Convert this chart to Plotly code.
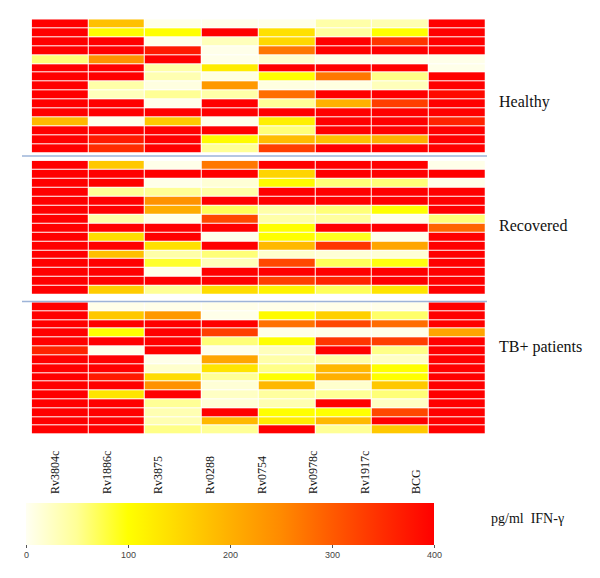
import plotly.graph_objects as go

antigens = ["Rv3804c", "Rv1886c", "Rv3875", "Rv0288", "Rv0754", "Rv0978c", "Rv1917c", "BCG"]
groups = ["Healthy", "Recovered", "TB+ patients"]

healthy = [
    [400, 180, 5, 5, 5, 40, 35, 400],
    [400, 105, 100, 400, 140, 45, 100, 400],
    [400, 400, 5, 30, 150, 400, 340, 400],
    [400, 400, 370, 5, 270, 400, 400, 400],
    [60, 240, 400, 5, 20, 5, 5, 5],
    [400, 400, 40, 125, 400, 400, 400, 5],
    [400, 400, 35, 10, 100, 270, 55, 400],
    [400, 40, 10, 230, 10, 10, 30, 400],
    [400, 30, 50, 40, 280, 400, 400, 390],
    [400, 400, 5, 400, 50, 200, 330, 400],
    [400, 400, 400, 400, 400, 400, 400, 400],
    [190, 5, 170, 5, 120, 400, 400, 360],
    [400, 400, 400, 400, 60, 400, 400, 400],
    [400, 370, 400, 105, 185, 180, 200, 400],
    [400, 350, 400, 50, 330, 400, 400, 400],
]

recovered = [
    [400, 170, 5, 270, 400, 400, 400, 5],
    [400, 400, 400, 400, 155, 400, 400, 400],
    [400, 400, 5, 15, 105, 60, 60, 5],
    [400, 50, 50, 40, 400, 400, 400, 400],
    [400, 400, 240, 400, 400, 400, 400, 400],
    [400, 400, 205, 70, 40, 60, 100, 400],
    [400, 40, 5, 320, 40, 45, 5, 60],
    [400, 400, 400, 400, 100, 400, 400, 290],
    [400, 145, 400, 5, 100, 90, 5, 400],
    [400, 400, 140, 400, 190, 340, 215, 400],
    [400, 180, 40, 60, 20, 15, 15, 400],
    [400, 400, 85, 30, 320, 70, 95, 400],
    [400, 400, 5, 400, 400, 400, 400, 400],
    [400, 400, 400, 400, 330, 360, 400, 400],
    [400, 165, 50, 145, 115, 70, 135, 400],
]

tb_patients = [
    [400, 5, 5, 5, 5, 5, 5, 400],
    [400, 170, 230, 5, 105, 160, 65, 400],
    [400, 400, 400, 400, 275, 320, 280, 400],
    [400, 100, 400, 330, 5, 5, 5, 215],
    [400, 400, 400, 60, 100, 340, 330, 400],
    [360, 5, 400, 5, 30, 400, 55, 400],
    [400, 400, 5, 215, 40, 40, 25, 400],
    [400, 400, 20, 135, 55, 190, 100, 400],
    [400, 370, 145, 50, 100, 200, 100, 400],
    [400, 400, 240, 15, 190, 20, 170, 400],
    [400, 135, 400, 25, 45, 50, 60, 400],
    [400, 400, 50, 15, 35, 400, 25, 400],
    [400, 400, 35, 400, 100, 100, 320, 400],
    [400, 400, 35, 190, 125, 190, 400, 400],
    [400, 400, 55, 50, 400, 50, 170, 400],
]

colorbar_ticks = [0, 100, 200, 300, 400]
colorbar_title = "pg/ml  IFN-γ"

W, H = 600, 578
OFF = 8  # default page body margin

SERIF = "Liberation Serif, Times New Roman, serif"


def px_x(p):
    return (p - OFF) / W


def px_y(p):
    return 1 - (p - OFF) / H


colorscale = [
    [0.0, "#FFFFF2"],
    [0.125, "#FFFF96"],
    [0.25, "#FFFF00"],
    [0.375, "#FFD800"],
    [0.5, "#FFB000"],
    [0.625, "#FF8A00"],
    [0.75, "#FF5A00"],
    [0.875, "#FF2C00"],
    [1.0, "#FF0000"],
]

fig = go.Figure()

data_groups = [healthy, recovered, tb_patients]
ydomains = [(19.3, 152.8), (160.7, 295.0), (302.3, 434.6)]
yaxes = ["y", "y2", "y3"]

for g, (z, ya) in enumerate(zip(data_groups, yaxes)):
    fig.add_trace(go.Heatmap(
        z=z,
        x=antigens,
        y=list(range(len(z))),
        coloraxis="coloraxis",
        xgap=1, ygap=1,
        xaxis="x", yaxis=ya,
        hovertemplate="%{x}: %{z}<extra>" + groups[g] + "</extra>",
    ))

# invisible trace to carry the antigen label axis
fig.add_trace(go.Scatter(x=antigens, y=[0] * len(antigens), xaxis="x4", yaxis="y4",
                         mode="markers", marker=dict(opacity=0), hoverinfo="skip",
                         showlegend=False))

layout = dict(
    width=W, height=H,
    margin=dict(l=0, r=0, t=0, b=0),
    paper_bgcolor="white", plot_bgcolor="white",
    showlegend=False,
    font=dict(family=SERIF),
    xaxis=dict(domain=[px_x(31.7), px_x(485.5)], anchor="y3", visible=False,
               type="category", categoryarray=antigens),
    coloraxis=dict(
        cmin=0, cmax=400, colorscale=colorscale,
        colorbar=dict(
            orientation="h",
            lenmode="pixels", len=408, thickness=42,
            x=px_x(230.5), xanchor="center",
            y=px_y(503), yanchor="top", ypad=0, xpad=0,
            outlinewidth=0,
            tickvals=colorbar_ticks,
            ticks="outside", ticklen=3, tickcolor="#555",
            tickfont=dict(family="Liberation Sans", size=9, color="#444"),
        ),
    ),
    xaxis4=dict(domain=[px_x(31.1), px_x(440.6)], anchor="y4", type="category",
                categoryarray=antigens, side="top", tickangle=-90,
                showline=False, showgrid=False, zeroline=False, ticks="",
                tickfont=dict(family=SERIF, size=12, color="#111")),
    yaxis4=dict(domain=[px_y(496), px_y(495)], anchor="x4", visible=False),
)
for ya, (top, bot) in zip(["yaxis", "yaxis2", "yaxis3"], ydomains):
    layout[ya] = dict(domain=[px_y(bot), px_y(top)], anchor="x", visible=False,
                      autorange="reversed")

fig.update_layout(**layout)

# separators between groups
for yy in [156.0, 301.5]:
    fig.add_shape(type="line", xref="paper", yref="paper",
                  x0=px_x(22), x1=px_x(487), y0=px_y(yy), y1=px_y(yy),
                  line=dict(color="#9DB4D8", width=1.5))

# group labels
for name, yc in zip(groups, [102, 225, 347]):
    fig.add_annotation(text=name, xref="paper", yref="paper", x=px_x(497), y=px_y(yc),
                       xanchor="left", yanchor="middle", showarrow=False,
                       font=dict(family=SERIF, size=16, color="#111"))

fig.add_annotation(text=colorbar_title, xref="paper", yref="paper", x=px_x(489), y=px_y(518),
                   xanchor="left", yanchor="middle", showarrow=False,
                   font=dict(family=SERIF, size=14, color="#111"))

fig.write_html("out.html")
